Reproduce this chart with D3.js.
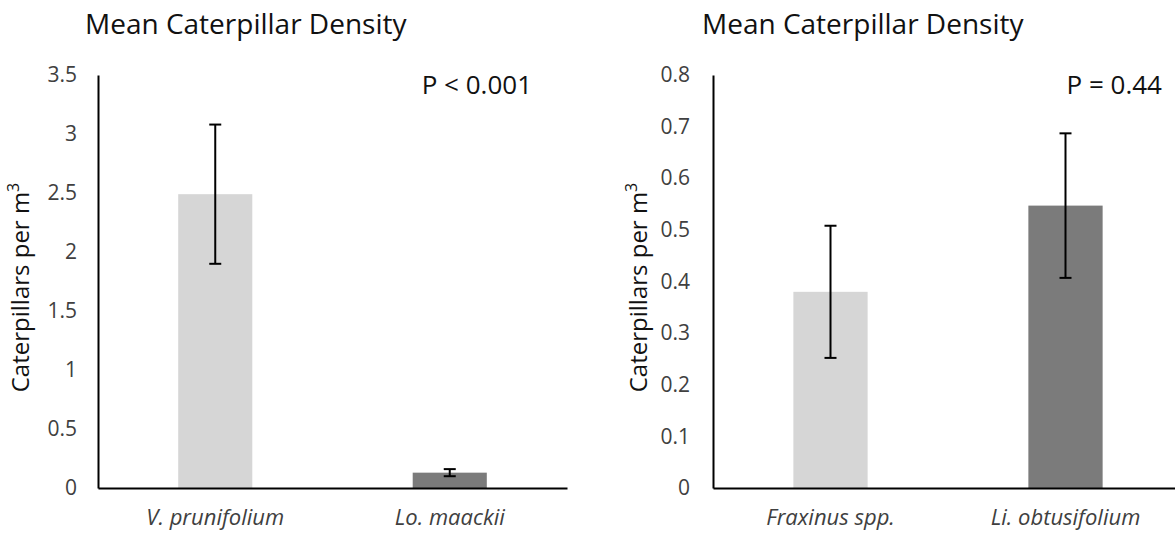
<!DOCTYPE html>
<html>
<head>
<meta charset="utf-8">
<script src="https://cdn.jsdelivr.net/npm/d3@7"></script>
<style>
  body { margin: 0; background: #fff; }
  svg text { font-family: "Open Sans", sans-serif; }
</style>
</head>
<body>
<div id="chart"></div>
<script>
// Data
const leftSpecies = ["V. prunifolium", "Lo. maackii"];
const leftMeans = [2.49, 0.13];
const leftErrors = [0.59, 0.03];
const leftTicks = [0, 0.5, 1, 1.5, 2, 2.5, 3, 3.5];
const leftP = "P < 0.001";

const rightSpecies = ["Fraxinus spp.", "Li. obtusifolium"];
const rightMeans = [0.38, 0.547];
const rightErrors = [0.128, 0.14];
const rightTicks = [0, 0.1, 0.2, 0.3, 0.4, 0.5, 0.6, 0.7, 0.8];
const rightP = "P = 0.44";

const barColors = ["#d6d6d6", "#7b7b7b"];

const svg = d3.select("#chart")
    .append("svg")
    .attr("width", 1175)
    .attr("height", 535);

function drawPanel(opts) {
    const margin = { top: 75, bottom: 47 };
    const height = 535 - margin.top - margin.bottom;

    const g = svg.append("g")
        .attr("transform", `translate(${opts.left},${margin.top})`);

    const x = d3.scaleBand()
        .domain(opts.species)
        .range([0, opts.width])
        .paddingInner(0.684)
        .paddingOuter(0.342);

    const y = d3.scaleLinear()
        .domain([0, opts.ticks[opts.ticks.length - 1]])
        .range([height, 0]);

    // Title
    svg.append("text")
        .attr("x", opts.titleX)
        .attr("y", 34)
        .style("font-size", "28px")
        .attr("fill", "#111")
        .text("Mean Caterpillar Density");

    // Bars
    g.selectAll(".bar")
        .data(opts.species)
        .enter()
        .append("rect")
        .attr("x", d => x(d))
        .attr("y", (d, i) => y(opts.means[i]))
        .attr("width", x.bandwidth())
        .attr("height", (d, i) => height - y(opts.means[i]))
        .attr("fill", (d, i) => barColors[i]);

    // Error bars
    opts.species.forEach((s, i) => {
        const cx = x(s) + x.bandwidth() / 2;
        const lo = y(opts.means[i] - opts.errors[i]);
        const hi = y(opts.means[i] + opts.errors[i]);
        g.append("line")
            .attr("x1", cx).attr("x2", cx)
            .attr("y1", lo).attr("y2", hi)
            .attr("stroke", "#000").attr("stroke-width", 2);
        [lo, hi].forEach(v => {
            g.append("line")
                .attr("x1", cx - 6).attr("x2", cx + 6)
                .attr("y1", v).attr("y2", v)
                .attr("stroke", "#000").attr("stroke-width", 2);
        });
    });

    // Axes
    const yAxis = g.append("g")
        .call(d3.axisLeft(y).tickValues(opts.ticks).tickSize(0).tickPadding(opts.tickPad)
            .tickFormat(d3.format("~g")));
    yAxis.select(".domain").attr("stroke", "#000").attr("stroke-width", 2);
    yAxis.selectAll("text")
        .style("font-size", "21px")
        .attr("fill", "#404040");

    const xAxis = g.append("g")
        .attr("transform", `translate(0,${height})`)
        .call(d3.axisBottom(x).tickSize(0).tickPadding(21));
    xAxis.select(".domain").attr("stroke", "#000").attr("stroke-width", 2);
    xAxis.selectAll("text")
        .style("font-size", "22px")
        .style("font-style", "italic")
        .attr("fill", "#404040");

    // Y-axis label
    const yl = svg.append("text")
        .attr("transform", `translate(${opts.labelX},${margin.top + height / 2 + 6}) rotate(-90)`)
        .attr("text-anchor", "middle")
        .style("font-size", "24px")
        .attr("fill", "#111");
    yl.append("tspan").text("Caterpillars per m");
    yl.append("tspan").attr("dy", -10).style("font-size", "16px").text("3");

    // P value
    svg.append("text")
        .attr("x", opts.pX)
        .attr("y", 94)
        .attr("text-anchor", "end")
        .style("font-size", "26px")
        .attr("fill", "#111")
        .text(opts.p);
}

drawPanel({
    left: 98, width: 469, titleX: 85, labelX: 29, pX: 532, tickPad: 21,
    species: leftSpecies, means: leftMeans, errors: leftErrors, ticks: leftTicks, p: leftP
});

drawPanel({
    left: 713, width: 470, titleX: 702, labelX: 647, pX: 1162, tickPad: 23,
    species: rightSpecies, means: rightMeans, errors: rightErrors, ticks: rightTicks, p: rightP
});
</script>
</body>
</html>
